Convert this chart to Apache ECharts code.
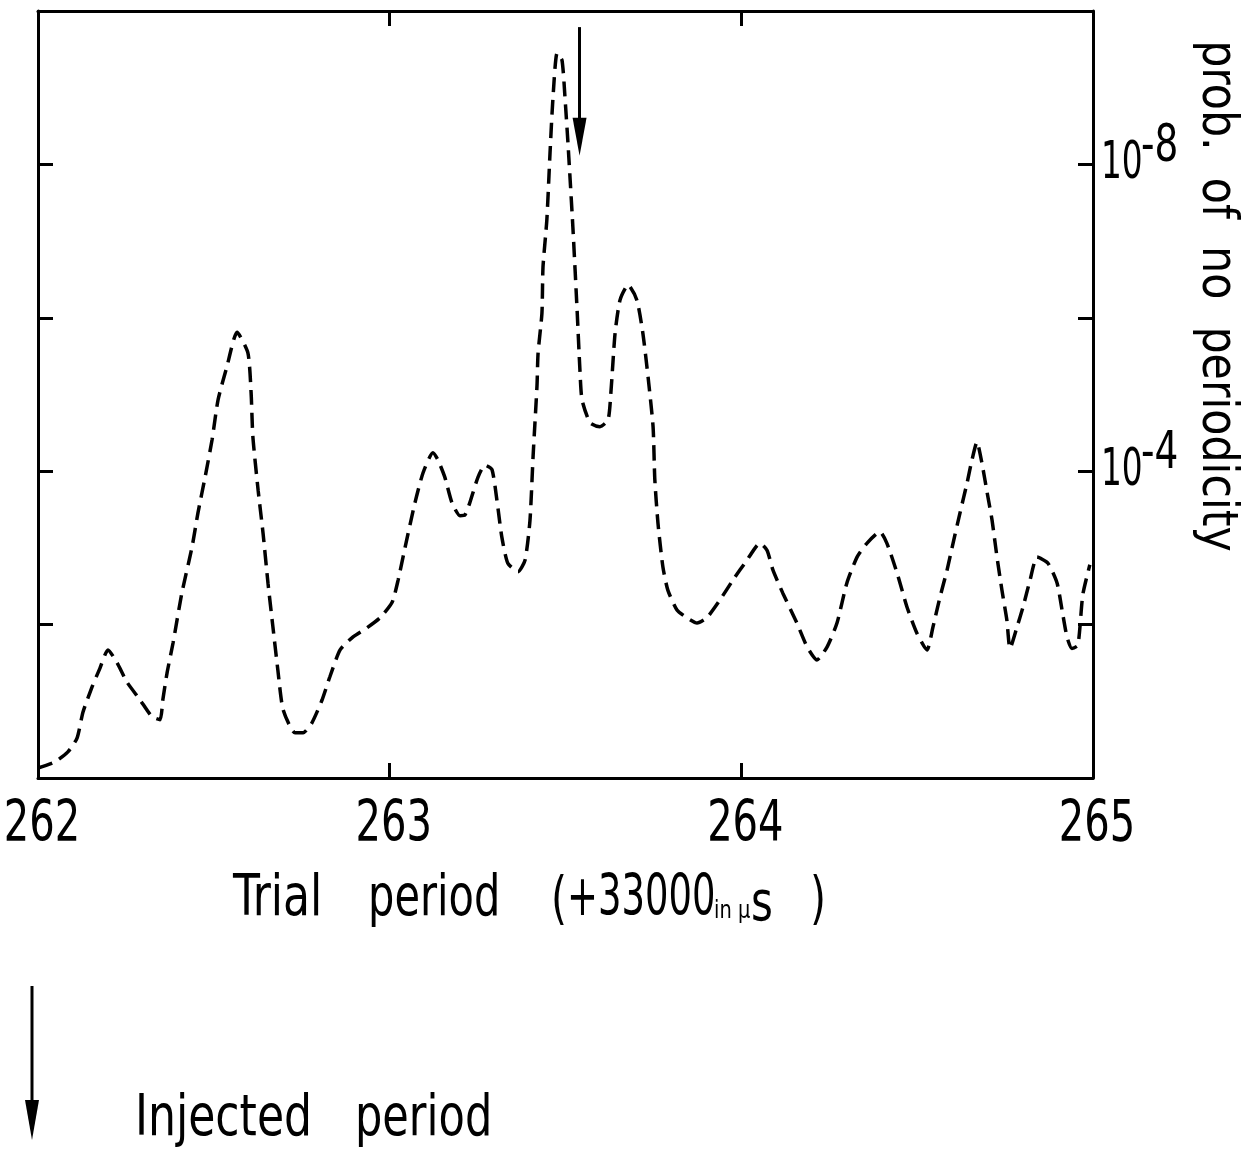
<!DOCTYPE html>
<html>
<head>
<meta charset="utf-8">
<script src="https://cdn.jsdelivr.net/npm/echarts@6/dist/echarts.min.js"></script>
<style>
  html, body { margin: 0; padding: 0; background: #fff; }
  #chart { width: 1248px; height: 1149px; }
</style>
</head>
<body>
<div id="chart"></div>
<script>
// Trial period (+33000 µs) and -log10(probability of no periodicity)
const trialPeriod = [
  262.000, 262.048, 262.085, 262.111, 262.128, 262.154, 262.176, 262.199, 262.225, 262.253,
  262.290, 262.324, 262.347, 262.355, 262.367, 262.384, 262.409, 262.438, 262.455, 262.475,
  262.495, 262.512, 262.537, 262.566, 262.597, 262.606, 262.611, 262.626, 262.640, 262.654,
  262.668, 262.682, 262.697, 262.731, 262.754, 262.779, 262.808, 262.830, 262.859, 262.896,
  262.936, 262.973, 263.007, 263.024, 263.044, 263.072, 263.095, 263.123, 263.137, 263.157,
  263.177, 263.200, 263.214, 263.228, 263.251, 263.271, 263.291, 263.305, 263.319, 263.336,
  263.365, 263.385, 263.399, 263.408, 263.419, 263.422, 263.433, 263.436, 263.447, 263.456,
  263.464, 263.476, 263.490, 263.499, 263.507, 263.521, 263.533, 263.541, 263.547, 263.570,
  263.598, 263.621, 263.629, 263.641, 263.655, 263.678, 263.703, 263.720, 263.735, 263.749,
  263.754, 263.763, 263.777, 263.791, 263.817, 263.845, 263.874, 263.902, 263.939, 263.976,
  264.016, 264.053, 264.073, 264.090, 264.118, 264.158, 264.187, 264.215, 264.244, 264.272,
  264.300, 264.329, 264.357, 264.394, 264.414, 264.443, 264.471, 264.499, 264.528, 264.545,
  264.565, 264.585, 264.602, 264.622, 264.642, 264.656, 264.670, 264.684, 264.699, 264.713,
  264.727, 264.741, 264.755, 264.764, 264.784, 264.801, 264.821, 264.841, 264.872, 264.898,
  264.912, 264.926, 264.940, 264.957, 264.971, 264.991
];
const negLogProb = [
  0.13, 0.21, 0.34, 0.52, 0.86, 1.19, 1.43, 1.67, 1.50, 1.25,
  1.02, 0.80, 0.76, 1.02, 1.37, 1.76, 2.41, 3.01, 3.46, 3.92,
  4.41, 4.93, 5.36, 5.81, 5.54, 5.02, 4.45, 3.75, 3.19, 2.54,
  1.97, 1.41, 0.89, 0.59, 0.59, 0.72, 1.02, 1.32, 1.67, 1.84,
  1.96, 2.09, 2.29, 2.58, 3.01, 3.59, 3.98, 4.24, 4.15, 3.92,
  3.59, 3.42, 3.43, 3.59, 3.92, 4.08, 4.02, 3.62, 3.14, 2.80,
  2.69, 2.84, 3.36, 4.21, 5.12, 5.54, 6.06, 6.66, 7.28, 8.15,
  8.84, 9.45, 9.36, 8.84, 8.28, 7.18, 6.10, 5.32, 4.93, 4.63,
  4.58, 4.67, 5.02, 5.80, 6.23, 6.43, 6.23, 5.80, 5.22, 4.58,
  3.89, 3.32, 2.75, 2.45, 2.19, 2.09, 2.02, 2.09, 2.32, 2.58,
  2.84, 3.06, 2.97, 2.71, 2.41, 2.02, 1.71, 1.54, 1.71, 2.02,
  2.54, 2.88, 3.06, 3.21, 3.06, 2.67, 2.23, 1.89, 1.67, 1.97,
  2.36, 2.71, 3.06, 3.46, 3.85, 4.15, 4.38, 4.11, 3.72, 3.36,
  2.88, 2.45, 2.06, 1.69, 1.97, 2.23, 2.58, 2.88, 2.80, 2.54,
  2.19, 1.84, 1.69, 1.73, 2.39, 2.78
];

// Axis ranges, tick labels and labelled decades (probability = 10^-exponent)
const periodRange = [262, 265];
const xTickLabels = [262, 263, 264, 265];
const exponentRange = [0, 10];
const labelledExponents = [4, 8];

// Injected period marker (drawn as a downward arrow)
const injectedPeriod = 263.54;
const injectedArrowTop = 9.79;
const injectedArrowEnd = 8.36;

const FONT = '"Liberation Sans Narrow", "DejaVu Sans Condensed", "Arial Narrow", sans-serif';
const INK = '#000';

const chart = echarts.init(document.getElementById('chart'), null, { renderer: 'canvas' });

const axisLine = { show: true, onZero: false, lineStyle: { color: INK, width: 3 } };
const axisTick = { show: true, inside: true, length: 15, lineStyle: { color: INK, width: 3 } };

const seriesData = trialPeriod.map((p, i) => [p, negLogProb[i]]);

function axis(position, range, interval) {
  return {
    type: 'value', position,
    min: range[0], max: range[1], interval,
    axisLine, axisTick,
    splitLine: { show: false },
    axisLabel: { show: false }
  };
}

chart.setOption({
  animation: false,
  backgroundColor: '#fff',
  grid: { left: 38, right: 155, top: 11, bottom: 371, containLabel: false, outerBoundsMode: 'none' },
  xAxis: [
    axis('bottom', periodRange, 1),
    axis('top', periodRange, 1)
  ],
  yAxis: [
    axis('left', exponentRange, 2),
    axis('right', exponentRange, 2)
  ],
  series: [
    {
      type: 'line',
      xAxisIndex: 0, yAxisIndex: 0,
      data: seriesData,
      showSymbol: false,
      smooth: 0.2,
      lineStyle: { color: INK, width: 3.5, type: [15, 8] },
      markLine: {
        silent: true,
        symbol: ['none', 'triangle'],
        symbolSize: [14, 38],
        label: { show: false },
        lineStyle: { color: INK, width: 3, type: 'solid' },
        itemStyle: { color: INK },
        data: [[
          { coord: [injectedPeriod, injectedArrowTop] },
          { coord: [injectedPeriod, injectedArrowEnd] }
        ]]
      }
    }
  ]
});

// Narrow lettering: text is drawn with a horizontal squeeze
function label(text, x, y, size, squeeze, align) {
  return {
    type: 'text', x, y, scaleX: squeeze,
    style: {
      text, fontFamily: FONT, fontSize: size, fill: INK,
      align: align || 'left', verticalAlign: 'middle',
      textAlign: align || 'left', textVerticalAlign: 'middle'
    }
  };
}

const xAxisBottom = 778;
const rightAxisX = chart.convertToPixel({ xAxisIndex: 0 }, periodRange[1]);

// Tick labels along the period axis
const xTickText = xTickLabels.map(v =>
  label(String(v), chart.convertToPixel({ xAxisIndex: 0 }, v) + 4, xAxisBottom + 48, 57, 0.78, 'center')
);

// Decade labels on the right-hand axis: 10 with a raised exponent
const yTickText = [];
labelledExponents.forEach(e => {
  const py = chart.convertToPixel({ yAxisIndex: 1 }, e);
  yTickText.push(label('10', rightAxisX + 8, py, 52, 0.7));
  yTickText.push(label('-' + e, rightAxisX + 48, py - 17, 52, 0.8));
});

chart.setOption({
  graphic: [
    ...xTickText,
    ...yTickText,
    // Right-hand axis title, reading top to bottom
    Object.assign(label('prob.  of  no  periodicity', 1216, 296, 50, 0.95, 'center'), { rotation: -Math.PI / 2 }),
    // Horizontal axis title
    label('Trial', 233, 900, 57, 0.86),
    label('period', 368, 900, 57, 0.81),
    label('(', 551, 902, 57, 0.8),
    label('+33000', 567, 900, 57, 0.72),
    label('in μ', 714, 912, 24, 0.9),
    label('s', 751, 906, 55, 0.85),
    label(')', 810, 902, 57, 0.8),
    // Key: the arrow marks the injected period
    { type: 'line', shape: { x1: 32, y1: 986, x2: 32, y2: 1102 }, style: { stroke: INK, lineWidth: 3 } },
    { type: 'polygon', shape: { points: [[25, 1100], [39, 1100], [32, 1140]] }, style: { fill: INK } },
    label('Injected', 135, 1120, 57, 0.86),
    label('period', 355, 1120, 57, 0.84)
  ]
});
</script>
</body>
</html>
